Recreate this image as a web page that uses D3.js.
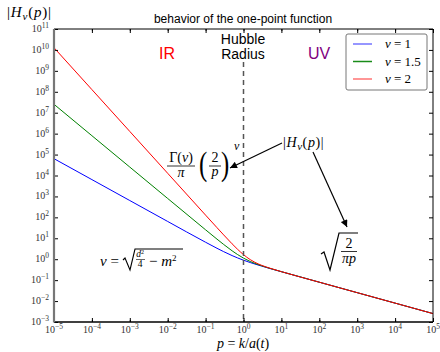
<!DOCTYPE html>
<html lang="en">
<head>
<meta charset="utf-8">
<title>behavior of the one-point function</title>
<script src="https://d3js.org/d3.v7.min.js"></script>
<style>
  body { margin: 0; background: #fff; }
  .math { font-family: "Liberation Serif", "DejaVu Serif", serif; }
  .sans { font-family: "Liberation Sans", Arial, sans-serif; }
</style>
</head>
<body>
<div id="canvas"></div>
<script>
// momentum p (log-spaced decades, denser near the Hubble radius)
const pVals = [1e-5, 1e-4, 1e-3, 1e-2, 0.1, 0.2, 0.3, 0.5, 0.7, 1, 1.5, 2, 3, 5, 10, 100, 1e3, 1e4, 1e5];
// |H_nu(p)|
const nu1  = [63662, 6366, 636.6, 63.66, 6.459, 3.326, 2.298, 1.491, 1.151, 0.897, 0.694, 0.587, 0.470, 0.359, 0.2527, 0.0798, 0.02523, 0.00798, 0.002523];
const nu15 = [2.523e7, 7.98e5, 2.523e4, 798, 25.36, 9.10, 5.07, 2.523, 1.663, 1.128, 0.783, 0.631, 0.486, 0.364, 0.2536, 0.0798, 0.02523, 0.00798, 0.002523];
const nu2  = [1.273e10, 1.273e8, 1.273e6, 12732, 127.6, 32.16, 14.48, 5.44, 2.962, 1.655, 0.960, 0.711, 0.512, 0.371, 0.2547, 0.0798, 0.02523, 0.00798, 0.002523];
const seriesNames = ["ν = 1", "ν = 1.5", "ν = 2"];
const seriesColors = ["#0000ff", "#008000", "#ff0000"];
const xExps = [-5, -4, -3, -2, -1, 0, 1, 2, 3, 4, 5];
const yExps = [-3, -2, -1, 0, 1, 2, 3, 4, 5, 6, 7, 8, 9, 10, 11];

const width = 440, height = 352;
const pLeft = 54, pRight = 433, pTop = 29, pBottom = 322;

const x = d3.scaleLog().domain([1e-5, 1e5]).range([pLeft, pRight]);
const y = d3.scaleLog().domain([1e-3, 1e11]).range([pBottom, pTop]);

const svg = d3.select("#canvas").append("svg")
    .attr("width", width)
    .attr("height", height);

const defs = svg.append("defs");
defs.append("marker")
    .attr("id", "arrow")
    .attr("viewBox", "0 0 10 10")
    .attr("refX", 10).attr("refY", 5)
    .attr("markerWidth", 9).attr("markerHeight", 7)
    .attr("markerUnits", "userSpaceOnUse")
    .attr("orient", "auto")
  .append("path")
    .attr("d", "M0,0L10,5L0,10z")
    .attr("fill", "#000");

defs.append("clipPath").attr("id", "plotclip")
  .append("rect").attr("x", pLeft).attr("y", pTop)
  .attr("width", pRight - pLeft).attr("height", pBottom - pTop);

// curves
const series = [nu1, nu15, nu2];
const line = d3.line()
    .x((d, i) => x(pVals[i]))
    .y(d => y(d))
    .curve(d3.curveMonotoneX);

svg.append("g").attr("clip-path", "url(#plotclip)")
  .selectAll("path")
  .data(series)
  .join("path")
    .attr("d", d => line(d))
    .attr("fill", "none")
    .attr("stroke", (d, i) => seriesColors[i])
    .attr("stroke-width", 1);

// Hubble radius
svg.append("line")
    .attr("x1", x(1)).attr("x2", x(1))
    .attr("y1", 62).attr("y2", pBottom)
    .attr("stroke", "#555")
    .attr("stroke-width", 1.5)
    .attr("stroke-dasharray", "5,4");

// axes (ticks pointing inward)
const minorX = x.ticks();
const majorX = xExps.map(e => Math.pow(10, e));
const majorY = yExps.map(e => Math.pow(10, e));
svg.append("g").attr("transform", `translate(0,${pBottom})`)
    .call(d3.axisBottom(x).tickValues(minorX).tickSize(-2).tickFormat(""))
    .call(g => g.select(".domain").remove());
svg.append("g").attr("transform", `translate(0,${pBottom})`)
    .call(d3.axisBottom(x).tickValues(majorX).tickSize(-4).tickFormat(""))
    .call(g => g.select(".domain").remove());
svg.append("g").attr("transform", `translate(0,${pTop})`)
    .call(d3.axisTop(x).tickValues(minorX).tickSize(-2).tickFormat(""))
    .call(g => g.select(".domain").remove());
svg.append("g").attr("transform", `translate(0,${pTop})`)
    .call(d3.axisTop(x).tickValues(majorX).tickSize(-4).tickFormat(""))
    .call(g => g.select(".domain").remove());
svg.append("g").attr("transform", `translate(${pLeft},0)`)
    .call(d3.axisLeft(y).tickValues(majorY).tickSize(-4).tickFormat(""))
    .call(g => g.select(".domain").remove());
svg.append("g").attr("transform", `translate(${pRight},0)`)
    .call(d3.axisRight(y).tickValues(majorY).tickSize(-4).tickFormat(""))
    .call(g => g.select(".domain").remove());

// spines
svg.append("line").attr("x1", pLeft).attr("x2", pRight).attr("y1", pTop).attr("y2", pTop).attr("stroke", "#000");
svg.append("line").attr("x1", pRight).attr("x2", pRight).attr("y1", pTop).attr("y2", pBottom).attr("stroke", "#000");
svg.append("line").attr("x1", pLeft).attr("x2", pRight).attr("y1", pBottom).attr("y2", pBottom).attr("stroke", "#000").attr("stroke-width", 1.3);
svg.append("line").attr("x1", pLeft).attr("x2", pLeft).attr("y1", pTop).attr("y2", pBottom + 0.5).attr("stroke", "#777").attr("stroke-width", 2.2);

// tick labels 10^k
function power(sel, e) {
  sel.append("tspan").text("10");
  sel.append("tspan").attr("dy", -4).attr("font-size", 7.5).text(e < 0 ? "−" + (-e) : e);
}
svg.append("g").selectAll("text")
  .data(xExps)
  .join("text")
    .attr("class", "math")
    .attr("x", d => x(Math.pow(10, d)))
    .attr("y", 333)
    .attr("font-size", 10)
    .attr("fill", "#333")
    .attr("text-anchor", "middle")
    .each(function(d) { power(d3.select(this), d); });
svg.append("g").selectAll("text")
  .data(yExps)
  .join("text")
    .attr("class", "math")
    .attr("x", 49)
    .attr("y", d => y(Math.pow(10, d)) + 3)
    .attr("font-size", 10)
    .attr("fill", "#333")
    .attr("text-anchor", "end")
    .each(function(d) { power(d3.select(this), d); });

// title and axis labels
svg.append("text").attr("class", "sans")
    .attr("x", 243).attr("y", 23).attr("text-anchor", "middle")
    .attr("font-size", 12).text("behavior of the one-point function");

function absH(t) {
  t.append("tspan").text("|");
  t.append("tspan").attr("font-style", "italic").text("H");
  t.append("tspan").attr("font-style", "italic").attr("font-size", 11).attr("dy", 3).text("ν");
  t.append("tspan").attr("dy", -3).text("(");
  t.append("tspan").attr("font-style", "italic").text("p");
  t.append("tspan").text(")|");
}
absH(svg.append("text").attr("class", "math").attr("x", 7).attr("y", 17).attr("font-size", 15).attr("letter-spacing", 0.8));

const xlab = svg.append("text").attr("class", "math")
    .attr("x", 243).attr("y", 348).attr("font-size", 14).attr("text-anchor", "middle");
xlab.append("tspan").attr("font-style", "italic").text("p");
xlab.append("tspan").text(" = ");
xlab.append("tspan").attr("font-style", "italic").text("k");
xlab.append("tspan").text("/");
xlab.append("tspan").attr("font-style", "italic").text("a");
xlab.append("tspan").text("(");
xlab.append("tspan").attr("font-style", "italic").text("t");
xlab.append("tspan").text(")");

// region labels
svg.append("text").attr("class", "sans").attr("x", 167).attr("y", 59)
    .attr("text-anchor", "middle").attr("font-size", 16).attr("fill", "#ff0000").text("IR");
svg.append("text").attr("class", "sans").attr("x", 319).attr("y", 59)
    .attr("text-anchor", "middle").attr("font-size", 16).attr("fill", "#800080").text("UV");
svg.append("text").attr("class", "sans").attr("x", 243).attr("y", 44)
    .attr("text-anchor", "middle").attr("font-size", 14).text("Hubble");
svg.append("text").attr("class", "sans").attr("x", 243).attr("y", 59)
    .attr("text-anchor", "middle").attr("font-size", 14).text("Radius");

// legend
const lg = svg.append("g");
lg.append("rect").attr("x", 346).attr("y", 34).attr("width", 81).attr("height", 56)
    .attr("rx", 2).attr("fill", "#fff").attr("stroke", "#777");
seriesNames.forEach((name, i) => {
  const ly = 44 + i * 17.5;
  lg.append("line").attr("x1", 353).attr("x2", 372).attr("y1", ly).attr("y2", ly)
      .attr("stroke", seriesColors[i]).attr("stroke-opacity", i === 1 ? 0.9 : 0.55).attr("stroke-width", 1.5);
  const t = lg.append("text").attr("class", "math").attr("x", 385).attr("y", ly + 4).attr("font-size", 13);
  t.append("tspan").attr("font-style", "italic").text("ν");
  t.append("tspan").text(name.slice(1).replace(" = ", " = "));
});

// IR asymptote: Γ(ν)/π (2/p)^ν
const f1 = svg.append("g").attr("class", "math").attr("font-size", 14);
const gam = f1.append("text").attr("x", 181).attr("y", 162).attr("text-anchor", "middle");
gam.append("tspan").text("Γ(");
gam.append("tspan").attr("font-style", "italic").text("ν");
gam.append("tspan").text(")");
f1.append("line").attr("x1", 167).attr("x2", 195).attr("y1", 166).attr("y2", 166).attr("stroke", "#000").attr("stroke-width", 0.8);
f1.append("text").attr("x", 181).attr("y", 177).attr("text-anchor", "middle").attr("font-style", "italic").text("π");
f1.append("text").attr("x", 199).attr("y", 175).attr("font-size", 33).attr("transform", "translate(199,0) scale(0.75,1) translate(-199,0)").text("(");
f1.append("text").attr("x", 215).attr("y", 162).attr("text-anchor", "middle").text("2");
f1.append("line").attr("x1", 209).attr("x2", 221).attr("y1", 166).attr("y2", 166).attr("stroke", "#000").attr("stroke-width", 0.8);
f1.append("text").attr("x", 215).attr("y", 176).attr("text-anchor", "middle").attr("font-style", "italic").text("p");
f1.append("text").attr("x", 221).attr("y", 175).attr("font-size", 33).attr("transform", "translate(221,0) scale(0.75,1) translate(-221,0)").text(")");
f1.append("text").attr("x", 234).attr("y", 150).attr("font-size", 12).attr("font-style", "italic").text("ν");

// label + arrows
absH(svg.append("text").attr("class", "math").attr("x", 283).attr("y", 147).attr("font-size", 14).attr("letter-spacing", 0.6));

svg.append("line").attr("x1", 282).attr("y1", 143).attr("x2", 230).attr("y2", 168)
    .attr("stroke", "#000").attr("stroke-width", 1.2).attr("marker-end", "url(#arrow)");
svg.append("line").attr("x1", 313).attr("y1", 152).attr("x2", 347).attr("y2", 227)
    .attr("stroke", "#000").attr("stroke-width", 1.2).attr("marker-end", "url(#arrow)");

// UV asymptote: sqrt(2/(πp))
const f2 = svg.append("g").attr("class", "math").attr("font-size", 14);
f2.append("path").attr("d", "M321,254 L324,252 L330,270 L339,233 L358,233")
    .attr("fill", "none").attr("stroke", "#000").attr("stroke-width", 1.2);
f2.append("text").attr("x", 349).attr("y", 248).attr("text-anchor", "middle").text("2");
f2.append("line").attr("x1", 341).attr("x2", 357).attr("y1", 251.5).attr("y2", 251.5).attr("stroke", "#000").attr("stroke-width", 0.8);
f2.append("text").attr("x", 349).attr("y", 263).attr("text-anchor", "middle").attr("font-style", "italic").text("πp");

// ν = sqrt(d²/4 − m²)
const f3 = svg.append("g").attr("class", "math").attr("font-size", 15);
const t3 = f3.append("text").attr("x", 100).attr("y", 266);
t3.append("tspan").attr("font-style", "italic").text("ν");
t3.append("tspan").text(" =");
f3.append("path").attr("d", "M123,260 L125,258 L130,270 L135,249 L183,249")
    .attr("fill", "none").attr("stroke", "#000").attr("stroke-width", 1.1);
const dt = f3.append("text").attr("x", 140).attr("y", 257).attr("font-size", 9.5).attr("text-anchor", "middle");
dt.append("tspan").attr("font-style", "italic").text("d");
dt.append("tspan").attr("dy", -3).attr("font-size", 6).text("2");
f3.append("line").attr("x1", 136).attr("x2", 145).attr("y1", 259.5).attr("y2", 259.5).attr("stroke", "#000").attr("stroke-width", 0.6);
f3.append("text").attr("x", 140).attr("y", 267).attr("font-size", 9.5).attr("text-anchor", "middle").text("4");
const mt = f3.append("text").attr("x", 149).attr("y", 266);
mt.append("tspan").text("− ");
mt.append("tspan").attr("font-style", "italic").text("m");
mt.append("tspan").attr("dy", -5).attr("font-size", 9).text("2");
</script>
</body>
</html>
